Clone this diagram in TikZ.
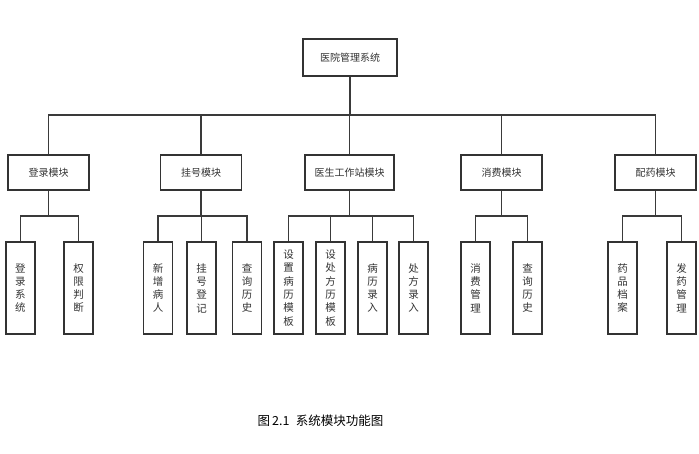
\documentclass[tikz,border=0pt]{standalone}
\usepackage{fontspec}
\setmainfont{Noto Sans CJK SC}
\begin{document}
\definecolor{linec}{HTML}{3A3A3A}
\definecolor{boxc}{HTML}{333333}
\definecolor{txtc}{HTML}{333333}
\begin{tikzpicture}[x=1pt,y=-1pt,
  topbox/.style={draw=boxc, line width=1.5pt, fill=white, minimum width=81pt, minimum height=35pt, inner sep=0pt, text=txtc, font=\fontsize{10}{12}\selectfont},
  leaf/.style={draw=boxc, line width=1.5pt, fill=white, minimum width=29pt, minimum height=92pt, inner sep=0pt, align=center, text=txtc, font=\fontsize{10.5}{13.3}\selectfont},
  conn/.style={draw=linec, line width=1.5pt}]
\useasboundingbox (0,0) rectangle (699,453);
\fill[white] (0,0) rectangle (699,453);

\node[topbox, minimum width=94pt, minimum height=37pt] (root) at (350,57.5) {医院管理系统};

\node[topbox] (m1) at (48.5,172.5) {登录模块};
\node[topbox] (m2) at (201,172.5) {挂号模块};
\node[topbox, minimum width=89pt] (m3) at (349.5,172.5) {医生工作站模块};
\node[topbox] (m4) at (501.5,172.5) {消费模块};
\node[topbox] (m5) at (655.5,172.5) {配药模块};

\node[leaf] (l11) at (20.5,288) {登\\录\\系\\统};
\node[leaf] (l12) at (78.5,288) {权\\限\\判\\断};
\node[leaf] (l21) at (158,288) {新\\增\\病\\人};
\node[leaf] (l22) at (201.5,288) {挂\\号\\登\\记};
\node[leaf] (l23) at (247,288) {查\\询\\历\\史};
\node[leaf] (l31) at (288.5,288) {设\\置\\病\\历\\模\\板};
\node[leaf] (l32) at (330.5,288) {设\\处\\方\\历\\模\\板};
\node[leaf] (l33) at (372.5,288) {病\\历\\录\\入};
\node[leaf] (l34) at (413.5,288) {处\\方\\录\\入};
\node[leaf] (l41) at (475.5,288) {消\\费\\管\\理};
\node[leaf] (l42) at (527.5,288) {查\\询\\历\\史};
\node[leaf] (l51) at (622.5,288) {药\\品\\档\\案};
\node[leaf] (l52) at (681.5,288) {发\\药\\管\\理};

\coordinate (b0) at (350,115);
\draw[conn] (root.south) -- (b0);
\foreach \m in {m1,m2,m3,m4,m5} \draw[conn] (b0) -| (\m.north);

\coordinate (b1) at (48.5,216);
\coordinate (b2) at (201,216);
\coordinate (b3) at (349.5,216);
\coordinate (b4) at (501.5,216);
\coordinate (b5) at (655.5,216);
\foreach \i in {1,...,5} \draw[conn] (m\i.south) -- (b\i);
\foreach \l in {l11,l12} \draw[conn] (b1) -| (\l.north);
\foreach \l in {l21,l22,l23} \draw[conn] (b2) -| (\l.north);
\foreach \l in {l31,l32,l33,l34} \draw[conn] (b3) -| (\l.north);
\foreach \l in {l41,l42} \draw[conn] (b4) -| (\l.north);
\foreach \l in {l51,l52} \draw[conn] (b5) -| (\l.north);

\node[font=\fontsize{12.5}{14}\selectfont, text=black] (cap) at (320.5,421) {图\,2.1\; 系统模块功能图};
\end{tikzpicture}
\end{document}
